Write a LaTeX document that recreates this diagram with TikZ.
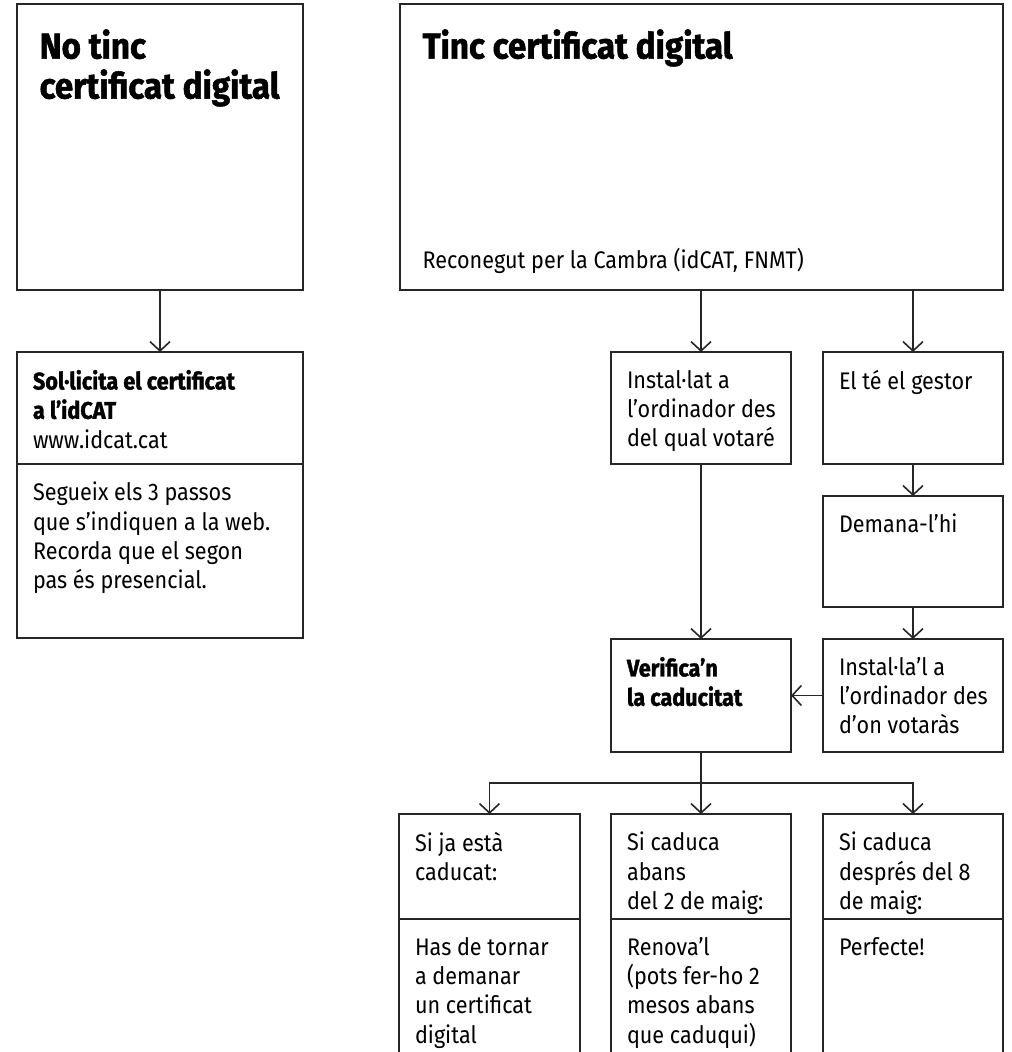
\documentclass[tikz,border=0pt]{standalone}
\usepackage{fontspec}
\setmainfont{Fira Sans}[FakeStretch=0.9, BoldFeatures={FakeBold=1.5}]
\newfontfamily\headfont{Fira Sans}[FakeStretch=0.92, BoldFeatures={FakeBold=1.5}]
\usetikzlibrary{arrows.meta}

\newcommand{\titlefont}{\headfont\fontsize{27}{30}\selectfont\bfseries}
\newcommand{\cell}[3]{\parbox[c][\dimexpr #2pt*3/4-27pt\relax][t]{\dimexpr #1pt*3/4\relax}{\leftskip=12pt #3}}
\newcommand{\titlecell}[3]{\parbox[c][\dimexpr #2pt*3/4-24pt\relax][t]{\dimexpr #1pt*3/4\relax}{\vspace*{7pt}\leftskip=17pt #3}}

\tikzset{
  box/.style={draw=black!85, line width=1.2pt, anchor=north west, outer sep=0pt,
    inner xsep=0pt, inner ysep=13.5pt, font=\fontsize{18}{22}\selectfont},
  titlebox/.style={box, inner ysep=12pt},
  link/.style={draw=black!85, line width=1.2pt, -{Straight Barb[length=7pt,width=15pt]}}
}

\begin{document}
\begin{tikzpicture}[x=0.75pt, y=-0.75pt]
  \useasboundingbox (0,0) rectangle (1011,1052);
  \clip (0,0) rectangle (1011,1052);

  % top row
  \node[titlebox] (notinc) at (17,4) {\titlecell{286}{286}{\titlefont No tinc\\certificat digital}};
  \node[titlebox] (tinc) at (400,4) {\titlecell{603}{286}{{\titlefont Tinc certificat digital}\par
    \vspace{\fill}Reconegut per la Cambra (idCAT, FNMT)}};

  % left column
  \node[box] (solhead) at (17,352) {\cell{286}{112}{{\bfseries Sol·licita el certificat\\a l’idCAT}\\www.idcat.cat}};
  \node[box] (solbody) at (17,464) {\cell{286}{174}{Segueix els 3 passos\\que s’indiquen a la web.\\Recorda que el segon\\pas és presencial.}};

  % right columns
  \node[box] (instalat) at (611,352) {\cell{180}{112}{Instal·lat a\\l’ordinador des\\del qual votaré}};
  \node[box] (elte) at (823,352) {\cell{180}{112}{El té el gestor}};
  \node[box] (demana) at (823,496) {\cell{180}{111}{Demana-l’hi}};
  \node[box] (verifica) at (611,639) {\cell{180}{113}{\bfseries Verifica’n\\la caducitat}};
  \node[box] (installal) at (823,639) {\cell{180}{113}{Instal·la’l a\\l’ordinador des\\d’on votaràs}};

  % bottom row
  \node[box] (caducat) at (399,814) {\cell{181}{105}{Si ja està\\caducat:}};
  \node[box] (abans) at (611,814) {\cell{180}{105}{Si caduca\\abans\\del 2 de maig:}};
  \node[box] (despres) at (823,814) {\cell{180}{105}{Si caduca\\després del 8\\de maig:}};
  \node[box] (tornar) at (399,919) {\cell{181}{170}{Has de tornar\\a demanar\\un certificat\\digital}};
  \node[box] (renova) at (611,919) {\cell{180}{170}{Renova’l\\(pots fer-ho 2\\mesos abans\\que caduqui)}};
  \node[box] (perfecte) at (823,919) {\cell{180}{170}{Perfecte!}};

  % connectors
  \draw[link] (notinc) -- (solhead);
  \draw[link] (tinc.south -| instalat) -- (instalat);
  \draw[link] (tinc.south -| elte) -- (elte);
  \draw[link] (elte) -- (demana);
  \draw[link] (demana) -- (installal);
  \draw[link] (instalat) -- (verifica);
  \draw[link] (installal) -- (verifica);
  \draw[draw=black!85, line width=1.2pt] (verifica.south) -- ++(0,31) coordinate (fork);
  \draw[link] (fork) -| (caducat.north);
  \draw[link] (fork) -- (abans.north);
  \draw[link] (fork) -| (despres.north);
\end{tikzpicture}
\end{document}
